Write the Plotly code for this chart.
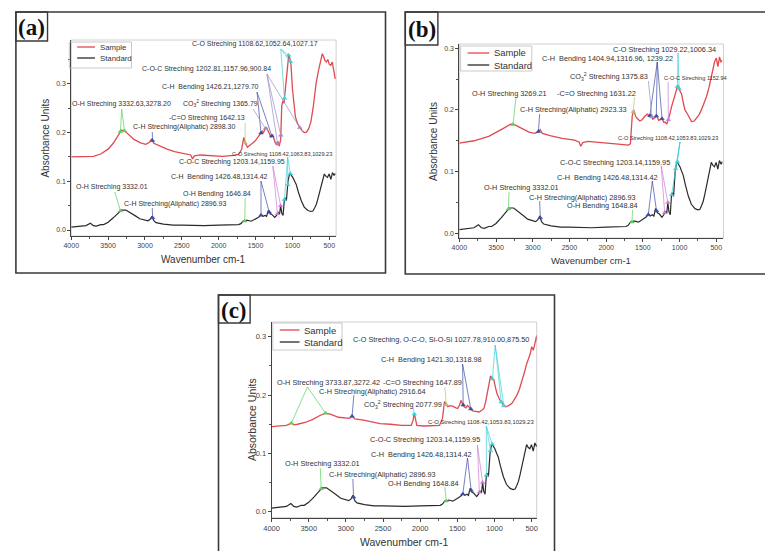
import numpy as np
import plotly.graph_objects as go

W, H = 765, 551

# ---------------- data ----------------
STD_WN = [4000, 3900, 3800, 3740, 3700, 3660, 3600, 3560, 3500, 3430, 3380, 3320, 3260, 3200, 3130,
          3070, 3000, 2960, 2930, 2905, 2880, 2850, 2750, 2620, 2500, 2350, 2200, 2000, 1850, 1730,
          1700, 1665, 1640, 1620, 1560, 1500, 1460, 1420, 1400, 1370, 1350, 1328, 1300, 1280, 1240,
          1215, 1195, 1175, 1160, 1145, 1127, 1110, 1100, 1082, 1060, 1040, 1030, 1015, 995, 970,
          950, 920, 880, 840, 790, 750, 723, 700, 678, 655, 636, 610, 591, 568, 545, 525, 502, 479,
          457, 435, 420]
STD_ABS = [0.006, 0.008, 0.009, 0.014, 0.009, 0.008, 0.011, 0.011, 0.016, 0.025, 0.033, 0.041, 0.041,
           0.036, 0.029, 0.023, 0.020, 0.019, 0.022, 0.028, 0.019, 0.015, 0.012, 0.010, 0.010, 0.009,
           0.009, 0.010, 0.010, 0.011, 0.013, 0.019, 0.018, 0.020, 0.018, 0.022, 0.026, 0.031, 0.028,
           0.030, 0.028, 0.040, 0.033, 0.032, 0.026, 0.030, 0.036, 0.032, 0.050, 0.035, 0.030, 0.062,
           0.066, 0.060, 0.100, 0.115, 0.116, 0.112, 0.108, 0.100, 0.094, 0.078, 0.060, 0.047, 0.040,
           0.038, 0.039, 0.045, 0.052, 0.064, 0.076, 0.090, 0.102, 0.115, 0.110, 0.108, 0.115, 0.104,
           0.118, 0.112, 0.116]

A_WN = [4000, 3850, 3700, 3600, 3500, 3430, 3370, 3320, 3280, 3220, 3150, 3060, 2990, 2940, 2910,
        2880, 2800, 2700, 2600, 2450, 2380, 2355, 2330, 2250, 2100, 1950, 1800, 1730, 1690, 1660,
        1640, 1610, 1560, 1510, 1470, 1430, 1410, 1395, 1370, 1350, 1320, 1290, 1270, 1250, 1230,
        1210, 1195, 1180, 1160, 1145, 1130, 1115, 1100, 1080, 1060, 1050, 1035, 1020, 1000, 980,
        960, 930, 900, 870, 840, 810, 780, 750, 720, 700, 680, 650, 620, 595, 575, 560, 540, 520,
        500, 480, 460, 440, 420]
A_ABS = [0.150, 0.150, 0.151, 0.156, 0.166, 0.178, 0.194, 0.205, 0.204, 0.195, 0.186, 0.179, 0.176,
         0.180, 0.187, 0.178, 0.172, 0.166, 0.161, 0.157, 0.154, 0.146, 0.152, 0.154, 0.152, 0.151,
         0.153, 0.155, 0.165, 0.190, 0.178, 0.170, 0.176, 0.182, 0.190, 0.198, 0.203, 0.199, 0.208,
         0.210, 0.200, 0.190, 0.196, 0.186, 0.178, 0.175, 0.182, 0.172, 0.185, 0.255, 0.265, 0.260,
         0.285, 0.320, 0.355, 0.360, 0.352, 0.340, 0.290, 0.255, 0.232, 0.218, 0.210, 0.204, 0.200,
         0.201, 0.208, 0.222, 0.250, 0.280, 0.300, 0.325, 0.345, 0.362, 0.355, 0.348, 0.345, 0.350,
         0.340, 0.338, 0.345, 0.325, 0.310]

B_WN = [4000, 3800, 3600, 3500, 3400, 3300, 3250, 3150, 3050, 2980, 2930, 2900, 2870, 2750, 2600,
        2430, 2370, 2345, 2320, 2250, 2100, 1950, 1800, 1700, 1670, 1645, 1625, 1600, 1577, 1540,
        1510, 1470, 1440, 1410, 1389, 1365, 1340, 1310, 1285, 1263, 1240, 1215, 1196, 1174, 1150,
        1139, 1110, 1090, 1060, 1030, 1018, 1000, 973, 950, 927, 900, 870, 837, 800, 770, 735, 703,
        670, 635, 600, 568, 540, 523, 500, 478, 456, 438, 420]
B_ABS = [0.146, 0.150, 0.157, 0.163, 0.170, 0.177, 0.176, 0.170, 0.164, 0.162, 0.164, 0.168, 0.162,
         0.158, 0.154, 0.151, 0.148, 0.141, 0.147, 0.149, 0.147, 0.146, 0.144, 0.143, 0.145, 0.190,
         0.200, 0.190, 0.186, 0.182, 0.184, 0.190, 0.193, 0.190, 0.193, 0.185, 0.187, 0.191, 0.183,
         0.184, 0.186, 0.180, 0.180, 0.177, 0.185, 0.190, 0.205, 0.212, 0.225, 0.238, 0.239, 0.232,
         0.226, 0.212, 0.200, 0.195, 0.188, 0.181, 0.182, 0.186, 0.192, 0.200, 0.210, 0.221, 0.236,
         0.254, 0.270, 0.278, 0.284, 0.270, 0.286, 0.278, 0.280]

C_WN = [4000, 3900, 3800, 3730, 3700, 3650, 3550, 3450, 3350, 3270, 3200, 3100, 3000, 2950, 2915,
        2880, 2760, 2650, 2540, 2400, 2250, 2120, 2095, 2080, 2065, 2045, 1950, 1850, 1740, 1700,
        1673, 1650, 1629, 1600, 1563, 1520, 1496, 1470, 1452, 1430, 1408, 1385, 1363, 1330, 1297,
        1250, 1208, 1170, 1142, 1120, 1097, 1075, 1053, 1030, 1009, 985, 965, 930, 898, 875, 853,
        810, 765, 730, 698, 665, 632, 600, 566, 540, 521, 499, 477, 455, 433, 420]
C_ABS = [0.146, 0.147, 0.148, 0.152, 0.149, 0.150, 0.153, 0.158, 0.165, 0.169, 0.167, 0.162, 0.160,
         0.160, 0.164, 0.159, 0.157, 0.154, 0.151, 0.150, 0.148, 0.148, 0.157, 0.169, 0.157, 0.148,
         0.147, 0.147, 0.148, 0.160, 0.189, 0.184, 0.180, 0.182, 0.181, 0.178, 0.177, 0.183, 0.191,
         0.185, 0.180, 0.178, 0.182, 0.178, 0.173, 0.172, 0.171, 0.174, 0.177, 0.188, 0.202, 0.218,
         0.233, 0.228, 0.226, 0.212, 0.202, 0.192, 0.186, 0.182, 0.180, 0.182, 0.186, 0.193, 0.200,
         0.210, 0.223, 0.238, 0.254, 0.263, 0.270, 0.283, 0.277, 0.289, 0.302, 0.290]

SERIES_NAMES = ["Sample", "Standard"]
PANEL_TAGS = ["(a)", "(b)", "(c)"]
X_TITLE = "Wavenumber cm-1"
Y_TITLE = "Absorbance Units"
CO3 = "CO<sub>3</sub><sup>2</sup>"

# (label text, peak wavenumbers, curve)
LABELS_A = [
    ("C-O Streching 1108.62,1052.64,1027.17", [1108.62, 1052.64, 1027.17], "sample"),
    ("C-O-C Streching 1202.81,1157.96,900.84", [1202.81, 1157.96, 900.84], "sample"),
    ("C-H  Bending 1426.21,1279.70", [1426.21, 1279.70], "sample"),
    ("O-H Streching 3332.63,3278.20", [3332.63, 3278.20], "sample"),
    (CO3 + " Streching 1365.79", [1365.79], "sample"),
    ("-C=O Streching 1642.13", [1642.13], "sample"),
    ("C-H Streching(Aliphatic) 2898.30", [2898.30], "sample"),
    ("C-O Streching 1108.42,1063.83,1029.23", [1108.42, 1063.83, 1029.23], "standard"),
    ("C-O-C Streching 1203.14,1159.95", [1203.14, 1159.95], "standard"),
    ("C-H  Bending 1426.48,1314.42", [1426.48, 1314.42], "standard"),
    ("O-H Streching 3332.01", [3332.01], "standard"),
    ("O-H Bending 1646.84", [1646.84], "standard"),
    ("C-H Streching(Aliphatic) 2896.93", [2896.93], "standard"),
]
LABELS_B = [
    ("C-O Streching 1029.22,1006.34", [1029.22, 1006.34], "sample"),
    ("C-H  Bending 1404.94,1316.96, 1239.22", [1404.94, 1316.96, 1239.22], "sample"),
    (CO3 + " Streching 1375.83", [1375.83], "sample"),
    ("-C=O Streching 1631.22", [1631.22], "sample"),
    ("O-H Streching 3269.21", [3269.21], "sample"),
    ("C-H Streching(Aliphatic) 2923.33", [2923.33], "sample"),
    ("C-O-C Streching 1152.94", [1152.94], "sample"),
    ("C-O Streching 1108.42,1053.83,1029.23", [1108.42, 1053.83, 1029.23], "standard"),
    ("C-O-C Streching 1203.14,1159.95", [1203.14, 1159.95], "standard"),
    ("C-H  Bending 1426.48,1314.42", [1426.48, 1314.42], "standard"),
    ("O-H Streching 3332.01", [3332.01], "standard"),
    ("C-H Streching(Aliphatic) 2896.93", [2896.93], "standard"),
    ("O-H Bending 1648.84", [1648.84], "standard"),
]
LABELS_C = [
    ("C-O Streching, O-C-O, Si-O-Si 1027.78,910.00,875.50", [1027.78, 910.00, 875.50], "sample"),
    ("C-H  Bending 1421.30,1318.98", [1421.30, 1318.98], "sample"),
    ("O-H Streching 3733.87,3272.42", [3733.87, 3272.42], "sample"),
    ("-C=O Streching 1647.89", [1647.89], "sample"),
    ("C-H Streching(Aliphatic) 2916.64", [2916.64], "sample"),
    (CO3 + " Streching 2077.99", [2077.99], "sample"),
    ("C-O Streching 1108.42,1053.83,1029.23", [1108.42, 1053.83, 1029.23], "standard"),
    ("C-O-C Streching 1203.14,1159.95", [1203.14, 1159.95], "standard"),
    ("C-H  Bending 1426.48,1314.42", [1426.48, 1314.42], "standard"),
    ("O-H Streching 3332.01", [3332.01], "standard"),
    ("C-H Streching(Aliphatic) 2896.93", [2896.93], "standard"),
    ("O-H Bending 1648.84", [1648.84], "standard"),
]

# ---------------- styles / layout ----------------
RED = "#e04a50"
BLACK = "#2a2a2a"
CYAN = "#3fd0d8"
GPURP = "#9a8ccc"
PINK = "#cc7ad6"
NAVY = "#3b4aa8"
GREEN = "#5ad05a"
GBLUE = "#8a96c8"
OLIVE = "#b4c46a"

# per label: (text px x, text px y, xanchor, line-start px x, line-start px y, color, small)
LAYOUT_A = [
    (250, 44, "center", 276, 49, CYAN, False),
    (268, 69, "right", 262, 74, GPURP, False),
    (256, 87, "right", 252, 92, NAVY, False),
    (63, 104, "left", 115, 109, GREEN, False),
    (175, 104, "left", 248, 109, GBLUE, False),
    (242, 118, "right", 240, 123, OLIVE, False),
    (232, 127, "right", 146, 132, NAVY, False),
    (277, 154, "center", 283, 157, CYAN, True),
    (282, 162, "right", 268, 166, PINK, False),
    (265, 177, "right", 256, 181, NAVY, False),
    (67, 187, "left", 108, 192, GREEN, False),
    (248, 194, "right", 240, 198, GREEN, False),
    (115, 204, "left", 146, 208, NAVY, False),
]
LAYOUT_B = [
    (718, 49, "right", 678, 53, CYAN, False),
    (675, 58, "right", 657, 62, NAVY, False),
    (650, 77, "right", 648, 81, GBLUE, False),
    (637, 93, "right", 634, 97, OLIVE, False),
    (467, 93, "left", 514, 98, GREEN, False),
    (628, 110, "right", 538, 114, NAVY, False),
    (662, 78, "left", 668, 82, PINK, True),
    (720, 138, "right", 680, 142, CYAN, True),
    (672, 162, "right", 661, 166, PINK, False),
    (660, 177, "right", 652, 181, NAVY, False),
    (480, 187, "left", 507, 192, GREEN, False),
    (637, 197, "right", 538, 201, NAVY, False),
    (640, 206, "right", 632, 210, GREEN, False),
]
LAYOUT_C = [
    (529, 339, "right", 493, 345, CYAN, False),
    (482, 359, "right", 460, 364, NAVY, False),
    (270, 382, "left", 303, 387, GREEN, False),
    (377, 382, "left", 442, 387, OLIVE, False),
    (313, 391, "left", 350, 395, NAVY, False),
    (358, 404, "left", 410, 408, CYAN, False),
    (534, 422, "right", 484, 426, CYAN, True),
    (480, 440, "right", 475, 445, PINK, False),
    (472, 454, "right", 465, 458, NAVY, False),
    (278, 463, "left", 316, 468, GREEN, False),
    (323, 475, "left", 349, 479, NAVY, False),
    (458, 483, "right", 442, 487, GREEN, False),
]

PANELS = [
    dict(xa="x", ya="y", plot=(64, 40, 332, 236), xr=(4000, 408), yr=(-0.0123, 0.39),
         sample=(A_WN, A_ABS), labels=LABELS_A, lay=LAYOUT_A,
         box=(8, 12, 382, 273), tag=(8, 12, 40, 41),
         tickf=7, ann=7.0, small=5.6,
         xt=(198, 259, 10), yt=(37, 138, 10),
         leg=dict(box=(62, 42, 125, 68), rows=(47, 58), line=(70, 88), tx=91, f=7.8)),
    dict(xa="x2", ya="y2", plot=(456.7, 44, 724, 238), xr=(4000, 402), yr=(-0.0076, 0.3068),
         sample=(B_WN, B_ABS), labels=LABELS_B, lay=LAYOUT_B,
         box=(402, 12, 772, 274), tag=(402, 12, 435, 45),
         tickf=7, ann=7.3, small=5.6,
         xt=(590, 261, 9.5), yt=(430, 141, 10),
         leg=dict(box=(458, 46, 530, 71), rows=(53, 65), line=(465, 487), tx=490, f=9.4)),
    dict(xa="x3", ya="y3", plot=(266.7, 322, 535, 517.7), xr=(4000, 432), yr=(-0.0103, 0.3254),
         sample=(C_WN, C_ABS), labels=LABELS_C, lay=LAYOUT_C,
         box=(213, 295, 553, 558), tag=(213, 295, 245, 323),
         tickf=7.5, ann=7.3, small=5.9,
         xt=(401, 542, 10.5), yt=(247, 420, 10.5),
         leg=dict(box=(268, 323, 338, 350), rows=(330, 342), line=(275, 295), tx=297, f=9.5)),
]

FONT = "Liberation Sans, Arial, sans-serif"


def px(x):
    return x / W


def py(y):
    return 1 - y / H


def curve_at(wn, ab, p):
    w = np.asarray(wn, float)[::-1]
    a = np.asarray(ab, float)[::-1]
    return float(np.interp(p, w, a))


fig = go.Figure()
shapes, annotations = [], []
layout_axes = {}

for i, P in enumerate(PANELS):
    L, T, R, B = P["plot"]
    x0, x1 = P["xr"]
    y0, y1 = P["yr"]

    def to_wn(xp, L=L, R=R, x0=x0, x1=x1):
        return x0 + (xp - L) / (R - L) * (x1 - x0)

    def to_ab(yp, T=T, B=B, y0=y0, y1=y1):
        return y1 - (yp - T) / (B - T) * (y1 - y0)

    xa, ya = P["xa"], P["ya"]
    curves = {"sample": P["sample"], "standard": (STD_WN, STD_ABS)}

    # spectra
    fig.add_trace(go.Scatter(x=P["sample"][0], y=P["sample"][1], mode="lines", name=SERIES_NAMES[0],
                             line=dict(color=RED, width=1.3), xaxis=xa, yaxis=ya, showlegend=False,
                             hoverinfo="skip"))
    fig.add_trace(go.Scatter(x=STD_WN, y=STD_ABS, mode="lines", name=SERIES_NAMES[1],
                             line=dict(color=BLACK, width=1.2), xaxis=xa, yaxis=ya, showlegend=False,
                             hoverinfo="skip"))

    # label lines, markers and texts
    for (text, peaks, cname), (tx, ty, anc, lx, ly, col, small) in zip(P["labels"], P["lay"]):
        wn, ab = curves[cname]
        xs, ys, mx, my = [], [], [], []
        for p in peaks:
            v = curve_at(wn, ab, p)
            xs += [to_wn(lx), p, None]
            ys += [to_ab(ly), v, None]
            mx.append(p)
            my.append(v)
        fig.add_trace(go.Scatter(x=xs, y=ys, mode="lines", line=dict(color=col, width=0.7),
                                 xaxis=xa, yaxis=ya, showlegend=False, hoverinfo="skip"))
        fig.add_trace(go.Scatter(x=mx, y=my, mode="markers",
                                 marker=dict(color=col, size=4, symbol="triangle-up",
                                             line=dict(color=col, width=0.5)),
                                 xaxis=xa, yaxis=ya, showlegend=False, hoverinfo="skip"))
        annotations.append(dict(text=text, x=px(tx), y=py(ty), xref="paper", yref="paper",
                                xanchor=anc, yanchor="middle", showarrow=False,
                                font=dict(family=FONT, size=P["small"] if small else P["ann"],
                                          color="#333")))

    # axes
    xdom = [px(L), px(R)]
    ydom = [py(B), py(T)]
    xkey = "xaxis" if i == 0 else f"xaxis{i+1}"
    ykey = "yaxis" if i == 0 else f"yaxis{i+1}"
    layout_axes[xkey] = dict(domain=xdom, range=[x0, x1], anchor=ya, tick0=0, dtick=500,
                             ticks="outside", ticklen=3, tickwidth=0.8, tickcolor="#444",
                             showline=True, linecolor="#444", linewidth=0.9, showgrid=False,
                             zeroline=False, tickfont=dict(family=FONT, size=P["tickf"], color="#444"),
                             minor=dict(ticks="outside", ticklen=2, tickwidth=0.6, tickcolor="#555",
                                        dtick=250, tick0=0, showgrid=False))
    layout_axes[ykey] = dict(domain=ydom, range=[y0, y1], anchor=xa, tick0=0, dtick=0.1,
                             tickformat=".1f", ticks="outside", ticklen=3, tickwidth=0.8,
                             tickcolor="#444", showline=True, linecolor="#444", linewidth=0.9,
                             showgrid=False, zeroline=False,
                             tickfont=dict(family=FONT, size=P["tickf"], color="#444"),
                             minor=dict(ticks="outside", ticklen=2, tickwidth=0.6, tickcolor="#555",
                                        dtick=0.05, tick0=0, showgrid=False))

    # light plot frame (top / right)
    shapes.append(dict(type="rect", xref="paper", yref="paper", x0=px(L), x1=px(R), y0=py(B), y1=py(T),
                       line=dict(color="#c4c4c4", width=0.8), layer="below"))
    # outer panel box
    bx0, by0, bx1, by1 = P["box"]
    shapes.append(dict(type="rect", xref="paper", yref="paper", x0=px(bx0), x1=px(bx1), y0=py(by1),
                       y1=py(by0), line=dict(color="#3a3a3a", width=1.6)))
    # tag box
    tx0, ty0, tx1, ty1 = P["tag"]
    shapes.append(dict(type="rect", xref="paper", yref="paper", x0=px(tx0), x1=px(tx1), y0=py(ty1),
                       y1=py(ty0), line=dict(color="#3a3a3a", width=1.4)))
    annotations.append(dict(text="<b>" + PANEL_TAGS[i] + "</b>", x=px((tx0 + tx1) / 2),
                            y=py((ty0 + ty1) / 2 + 1), xref="paper", yref="paper", showarrow=False,
                            xanchor="center", yanchor="middle",
                            font=dict(family="Liberation Serif, Times New Roman, serif", size=23,
                                      color="#111")))
    # axis titles
    xt = P["xt"]
    annotations.append(dict(text=X_TITLE, x=px(xt[0]), y=py(xt[1]), xref="paper", yref="paper",
                            showarrow=False, xanchor="center", yanchor="middle",
                            font=dict(family=FONT, size=xt[2], color="#333")))
    yt = P["yt"]
    annotations.append(dict(text=Y_TITLE, x=px(yt[0]), y=py(yt[1]), xref="paper", yref="paper",
                            showarrow=False, xanchor="center", yanchor="middle", textangle=-90,
                            font=dict(family=FONT, size=yt[2], color="#333")))
    # legend
    lg = P["leg"]
    lb = lg["box"]
    shapes.append(dict(type="rect", xref="paper", yref="paper", x0=px(lb[0]), x1=px(lb[2]),
                       y0=py(lb[3]), y1=py(lb[1]), line=dict(color="#bdbdbd", width=0.8)))
    for name, col, ry in zip(SERIES_NAMES, [RED, BLACK], lg["rows"]):
        shapes.append(dict(type="line", xref="paper", yref="paper", x0=px(lg["line"][0]),
                           x1=px(lg["line"][1]), y0=py(ry), y1=py(ry),
                           line=dict(color=col, width=1.3)))
        annotations.append(dict(text=name, x=px(lg["tx"]), y=py(ry), xref="paper", yref="paper",
                                showarrow=False, xanchor="left", yanchor="middle",
                                font=dict(family=FONT, size=lg["f"], color="#333")))

fig.update_layout(width=W, height=H, margin=dict(l=0, r=0, t=0, b=0), paper_bgcolor="white",
                  plot_bgcolor="white", showlegend=False, shapes=shapes, annotations=annotations,
                  **layout_axes)

fig.write_html("out.html", config={"displayModeBar": False},
               post_script="document.body.style.margin='0px';document.body.style.overflow='hidden';")
